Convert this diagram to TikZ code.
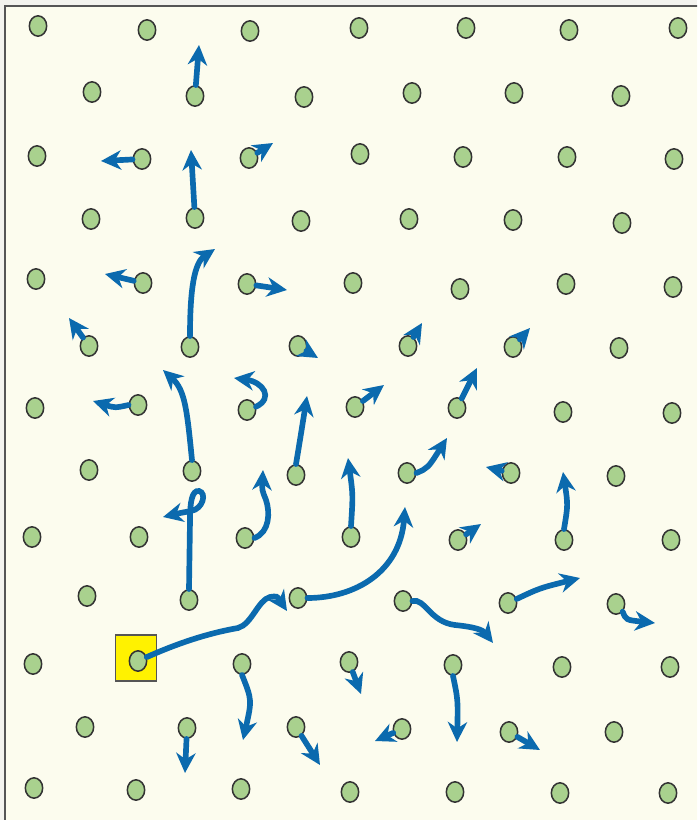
\documentclass[tikz,border=0pt]{standalone}
\usetikzlibrary{shapes.geometric,arrows.meta}
\definecolor{outerbg}{HTML}{F3F3EE}
\definecolor{cream}{HTML}{FCFCEE}
\definecolor{frameline}{HTML}{555555}
\definecolor{dotgreen}{HTML}{A9D18E}
\definecolor{dotline}{HTML}{333333}
\definecolor{arrblue}{HTML}{0B6AAE}
\definecolor{boxyellow}{HTML}{FFF200}
\tikzset{
  dot/.style={ellipse, draw=dotline, fill=dotgreen, line width=1.3pt, minimum width=0.52cm, minimum height=0.61cm, inner sep=0pt},
  arr/.style={draw=arrblue, line width=0.17cm, line cap=round, -{Stealth[length=0.6cm,width=0.58cm,inset=0.19cm]}},
  startbox/.style={rectangle, draw=frameline, fill=boxyellow, line width=1pt, minimum width=1.23cm, minimum height=1.38cm, inner sep=0pt}
}
\begin{document}
\begin{tikzpicture}[x=0.03cm,y=-0.03cm]
\clip (0,0) rectangle (697,820);
\fill[outerbg] (0,0) rectangle (697,820);
\filldraw[fill=cream, draw=frameline, line width=1.2pt] (5,6) rectangle (720,840);
\node[startbox] (ybox) at (136,658) {};
% row 1
\node[dot] (r1a) at (38,26) {};
\node[dot] (r1b) at (147,30) {};
\node[dot] (r1c) at (250,31) {};
\node[dot] (r1d) at (359,28) {};
\node[dot] (r1e) at (466,28) {};
\node[dot] (r1f) at (569,30) {};
\node[dot] (r1g) at (678,28) {};
% row 2
\node[dot] (r2a) at (92,92) {};
\node[dot] (r2b) at (195,96) {};
\node[dot] (r2c) at (304,97) {};
\node[dot] (r2d) at (412,93) {};
\node[dot] (r2e) at (514,93) {};
\node[dot] (r2f) at (621,96) {};
% row 3
\node[dot] (r3a) at (37,156) {};
\node[dot] (r3b) at (142,159) {};
\node[dot] (r3c) at (249,158) {};
\node[dot] (r3d) at (360,154) {};
\node[dot] (r3e) at (463,157) {};
\node[dot] (r3f) at (567,157) {};
\node[dot] (r3g) at (674,159) {};
% row 4
\node[dot] (r4a) at (91,219) {};
\node[dot] (r4b) at (195,218) {};
\node[dot] (r4c) at (301,221) {};
\node[dot] (r4d) at (409,219) {};
\node[dot] (r4e) at (513,220) {};
\node[dot] (r4f) at (622,223) {};
% row 5
\node[dot] (r5a) at (36,279) {};
\node[dot] (r5b) at (143,283) {};
\node[dot] (r5c) at (247,284) {};
\node[dot] (r5d) at (353,283) {};
\node[dot] (r5e) at (460,289) {};
\node[dot] (r5f) at (566,284) {};
\node[dot] (r5g) at (673,287) {};
% row 6
\node[dot] (r6a) at (89,346) {};
\node[dot] (r6b) at (190,347) {};
\node[dot] (r6c) at (298,346) {};
\node[dot] (r6d) at (408,346) {};
\node[dot] (r6e) at (513,347) {};
\node[dot] (r6f) at (619,348) {};
% row 7
\node[dot] (r7a) at (35,408) {};
\node[dot] (r7b) at (138,405) {};
\node[dot] (r7c) at (247,410) {};
\node[dot] (r7d) at (355,407) {};
\node[dot] (r7e) at (457,408) {};
\node[dot] (r7f) at (563,412) {};
\node[dot] (r7g) at (672,413) {};
% row 8
\node[dot] (r8a) at (89,470) {};
\node[dot] (r8b) at (192,471) {};
\node[dot] (r8c) at (296,475) {};
\node[dot] (r8d) at (407,473) {};
\node[dot] (r8e) at (511,473) {};
\node[dot] (r8f) at (616,476) {};
% row 9
\node[dot] (r9a) at (32,537) {};
\node[dot] (r9b) at (139,537) {};
\node[dot] (r9c) at (245,538) {};
\node[dot] (r9d) at (351,537) {};
\node[dot] (r9e) at (458,540) {};
\node[dot] (r9f) at (564,540) {};
\node[dot] (r9g) at (671,540) {};
% row 10
\node[dot] (r10a) at (87,596) {};
\node[dot] (r10b) at (189,600) {};
\node[dot] (r10c) at (298,598) {};
\node[dot] (r10d) at (403,601) {};
\node[dot] (r10e) at (508,603) {};
\node[dot] (r10f) at (616,604) {};
% row 11
\node[dot] (r11a) at (33,664) {};
\node[dot] (r11b) at (138,661) {};
\node[dot] (r11c) at (242,664) {};
\node[dot] (r11d) at (349,662) {};
\node[dot] (r11e) at (453,665) {};
\node[dot] (r11f) at (562,667) {};
\node[dot] (r11g) at (670,667) {};
% row 12
\node[dot] (r12a) at (85,727) {};
\node[dot] (r12b) at (187,728) {};
\node[dot] (r12c) at (296,727) {};
\node[dot] (r12d) at (402,729) {};
\node[dot] (r12e) at (509,732) {};
\node[dot] (r12f) at (614,732) {};
% row 13
\node[dot] (r13a) at (34,788) {};
\node[dot] (r13b) at (136,790) {};
\node[dot] (r13c) at (241,789) {};
\node[dot] (r13d) at (350,792) {};
\node[dot] (r13e) at (455,792) {};
\node[dot] (r13f) at (560,793) {};
\node[dot] (r13g) at (668,793) {};
% arrow end points
\coordinate (e1) at (199,45);
\coordinate (e2) at (101,161);
\coordinate (e3) at (273,143);
\coordinate (e4) at (191,150);
\coordinate (e5) at (105,274);
\coordinate (e6) at (215,249);
\coordinate (e7) at (287,290);
\coordinate (e8) at (69,318);
\coordinate (e9) at (318,358);
\coordinate (e10) at (422,323);
\coordinate (e11) at (530,328);
\coordinate (e12) at (93,401);
\coordinate (e13) at (234,378);
\coordinate (e14) at (163,370);
\coordinate (e15) at (307,396);
\coordinate (e16) at (384,385);
\coordinate (e17) at (477,368);
\coordinate (e18) at (447,438);
\coordinate (e19) at (486,467);
\coordinate (e20) at (163,517);
\coordinate (e21) at (263,470);
\coordinate (e22) at (348,458);
\coordinate (e23) at (481,524);
\coordinate (e24) at (563,472);
\coordinate (e25) at (287,611);
\coordinate (e26) at (405,507);
\coordinate (e27) at (493,643);
\coordinate (e28) at (580,578);
\coordinate (e29) at (655,623);
\coordinate (e30) at (243,740);
\coordinate (e31) at (361,694);
\coordinate (e32) at (457,742);
\coordinate (e33) at (185,773);
\coordinate (e34) at (320,765);
\coordinate (e35) at (375,741);
\coordinate (e36) at (540,750);
% arrows
\draw[arr] (r2b) -- (e1);
\draw[arr] (r3b) -- (e2);
\draw[arr] (r3c) -- (e3);
\draw[arr] (r4b) -- (e4);
\draw[arr] (r5b) -- (e5);
\draw[arr] (r6b.north) .. controls (190,290) and (194,263) .. (e6);
\draw[arr] (r5c) -- (e7);
\draw[arr] (r6a) -- (e8);
\draw[arr] (r6c) -- (e9);
\draw[arr] (r6d) -- (e10);
\draw[arr] (r6e) -- (e11);
\draw[arr] (r7b.west) .. controls (115,408) .. (e12);
\draw[arr] (r7c.20) .. controls (274,398) and (263,382) .. (e13);
\draw[arr] (r8b.north) .. controls (187,410) and (185,390) .. (e14);
\draw[arr] (r8c.north) .. controls (300,440) .. (e15);
\draw[arr] (r7d) -- (e16);
\draw[arr] (r7e) -- (e17);
\draw[arr] (r8d.east) .. controls (428,468) .. (e18);
\draw[arr] (r8e) -- (e19);
\draw[arr] (r10b.north) -- (190,520) .. controls (190,502) and (192,490) .. (199,491) .. controls (207,493) and (203,509) .. (191,511) .. controls (180,513) .. (e20);
\draw[arr] (r9c.east) .. controls (270,532) and (270,512) .. (266,500) .. controls (262,490) .. (e21);
\draw[arr] (r9d.north) .. controls (353,495) .. (e22);
\draw[arr] (r9e) -- (e23);
\draw[arr] (r9f.north) .. controls (568,505) .. (e24);
\draw[arr] (r11b) .. controls (185,640) and (215,632) .. (238,628) .. controls (252,624) and (258,600) .. (270,597) .. controls (277,596) .. (e25);
\draw[arr] (r10c.east) .. controls (355,598) and (400,572) .. (e26);
\draw[arr] (r10d.east) .. controls (425,598) and (430,622) .. (455,625) .. controls (475,627) and (483,630) .. (e27);
\draw[arr] (r10e) .. controls (540,588) .. (e28);
\draw[arr] (r10f.south east) .. controls (626,620) .. (e29);
\draw[arr] (r11c.south) .. controls (252,700) .. (e30);
\draw[arr] (r11d) -- (e31);
\draw[arr] (r11e.south) .. controls (458,700) .. (e32);
\draw[arr] (r12b) -- (e33);
\draw[arr] (r12c) -- (e34);
\draw[arr] (r12d) -- (e35);
\draw[arr] (r12e) -- (e36);
\end{tikzpicture}
\end{document}
